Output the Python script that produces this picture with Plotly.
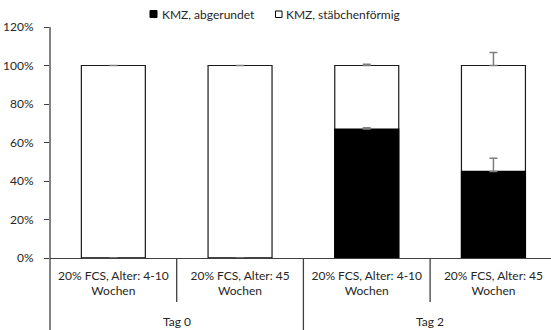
import plotly.graph_objects as go

# ---- data ----
groups = ["Tag 0", "Tag 0", "Tag 2", "Tag 2"]
conditions = ["20% FCS, Alter: 4-10<br>Wochen", "20% FCS, Alter: 45<br>Wochen",
              "20% FCS, Alter: 4-10<br>Wochen", "20% FCS, Alter: 45<br>Wochen"]
series_names = ["KMZ, abgerundet", "KMZ, stäbchenförmig"]
rounded = [0, 0, 67, 45]
rounded_err = [0, 0, 0.6, 6.8]
rod = [100, 100, 33, 55]
rod_err = [0, 0, 0.6, 6.7]
y_ticks = [0, 20, 40, 60, 80, 100, 120]

FONT = "Lato"
TXT = "#262626"
keys = [f"{g}|{i}" for i, g in enumerate(groups)]
totals = [a + b for a, b in zip(rounded, rod)]

fig = go.Figure()
# stacked look: upper segment drawn as full-height bar, lower segment overlaid on it
fig.add_trace(go.Bar(
    x=keys, y=totals, name=series_names[1], showlegend=False,
    marker=dict(color="white", line=dict(color="#1a1a1a", width=1.2)),
    error_y=dict(type="data", array=rod_err, arrayminus=[0]*4, symmetric=False,
                 color="#7f7f7f", thickness=1.5, width=4),
))
fig.add_trace(go.Bar(
    x=keys, y=rounded, name=series_names[0], showlegend=False,
    marker=dict(color="black", line=dict(color="black", width=1.2)),
    error_y=dict(type="data", array=rounded_err, arrayminus=[0]*4, symmetric=False,
                 color="#7f7f7f", thickness=1.5, width=4),
))

W, H = 551, 330
ml, mr, mt, mb = 50, 0, 27, 72
pw = W - ml - mr
ph = H - mt - mb
catw = 126.7
xmax = -0.5 + pw / catw

def py(pxy):
    return (H - mb - pxy) / ph

def px(pxx):
    return (pxx - ml) / pw

shapes = []
shapes.append(dict(type="line", xref="paper", yref="paper", x0=0, x1=0,
                   y0=1, y1=py(H), line=dict(color="#404040", width=1.3)))
for i in range(1, len(keys)):
    full = groups[i] != groups[i - 1]
    shapes.append(dict(type="line", xref="x", yref="paper", x0=i - 0.5, x1=i - 0.5,
                       y0=0, y1=py(H) if full else py(302),
                       line=dict(color="#404040", width=1.3)))
shapes.append(dict(type="rect", xref="paper", yref="paper",
                   x0=px(150), x1=px(157), y0=py(10.5), y1=py(17.5),
                   fillcolor="black", line=dict(color="black", width=1)))
shapes.append(dict(type="rect", xref="paper", yref="paper",
                   x0=px(275.5), x1=px(282), y0=py(11), y1=py(17.5),
                   fillcolor="white", line=dict(color="black", width=1)))

annotations = [
    dict(text=series_names[0], xref="paper", yref="paper", x=px(159.5), y=py(14),
         xanchor="left", yanchor="middle", showarrow=False, font=dict(size=12, color=TXT, family=FONT)),
    dict(text=series_names[1], xref="paper", yref="paper", x=px(284), y=py(14),
         xanchor="left", yanchor="middle", showarrow=False, font=dict(size=12, color=TXT, family=FONT)),
]
ug = []
for g in groups:
    if g not in ug:
        ug.append(g)
for g in ug:
    idx = [i for i, gg in enumerate(groups) if gg == g]
    annotations.append(dict(text=g, xref="x", yref="paper", x=(idx[0] + idx[-1]) / 2,
                            y=py(321.5), xanchor="center", yanchor="middle", showarrow=False,
                            font=dict(size=12, color=TXT, family=FONT)))

fig.update_layout(
    width=W, height=H,
    margin=dict(l=ml, r=mr, t=mt, b=mb, pad=0),
    paper_bgcolor="white", plot_bgcolor="white",
    barmode="overlay", bargap=0.495,
    showlegend=False,
    font=dict(family=FONT, size=12, color=TXT),
    shapes=shapes, annotations=annotations,
    xaxis=dict(range=[-0.5, xmax], tickvals=keys, ticktext=conditions,
               showline=True, linecolor="#404040", linewidth=1.3,
               ticks="", showgrid=False, zeroline=False,
               tickfont=dict(size=12, color=TXT, family=FONT), ticklabelstandoff=6),
    yaxis=dict(range=[0, 120], tickvals=y_ticks, ticktext=[f"{v}%" for v in y_ticks],
               showline=False, ticks="outside", ticklen=5, tickcolor="#404040", tickwidth=1.3,
               showgrid=False, zeroline=False,
               tickfont=dict(size=12, color=TXT, family=FONT), ticklabelstandoff=8),
)

fig.write_html("out.html")
